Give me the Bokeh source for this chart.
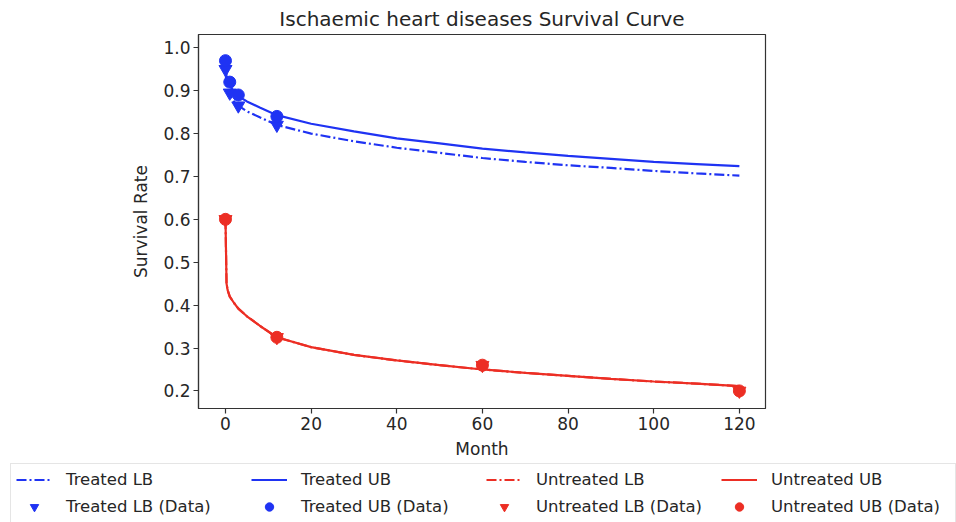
from bokeh.plotting import figure
from bokeh.models import Legend, LegendItem, FixedTicker, NumeralTickFormatter, Range1d
from bokeh.embed import file_html
from bokeh.resources import INLINE

# ---- data ----
curve_months = [0, 0.25, 0.5, 1, 2, 3, 5, 8, 12, 20, 30, 40, 50, 60, 70, 80, 90, 100, 110, 120]
treated_ub_curve = [0.965, 0.935, 0.925, 0.912, 0.897, 0.887, 0.875, 0.861, 0.843, 0.823, 0.805,
                    0.789, 0.777, 0.765, 0.756, 0.748, 0.741, 0.734, 0.729, 0.724]
treated_lb_curve = [0.945, 0.915, 0.903, 0.890, 0.875, 0.865, 0.852, 0.838, 0.820, 0.800, 0.782,
                    0.767, 0.755, 0.743, 0.734, 0.726, 0.720, 0.713, 0.707, 0.702]
untreated_ub_curve = [0.600, 0.450, 0.435, 0.420, 0.405, 0.392, 0.374, 0.352, 0.325, 0.302, 0.284,
                      0.271, 0.260, 0.250, 0.242, 0.235, 0.228, 0.222, 0.217, 0.211]
untreated_lb_curve = [0.600, 0.450, 0.435, 0.420, 0.405, 0.392, 0.374, 0.352, 0.325, 0.302, 0.284,
                      0.271, 0.260, 0.250, 0.242, 0.235, 0.228, 0.222, 0.217, 0.211]

treated_data_months = [0, 1, 3, 12]
treated_lb_data = [0.95, 0.895, 0.865, 0.82]
treated_ub_data = [0.97, 0.92, 0.89, 0.84]

untreated_data_months = [0, 12, 60, 120]
untreated_lb_data = [0.60, 0.325, 0.26, 0.20]
untreated_ub_data = [0.60, 0.325, 0.26, 0.20]

x_ticks = [0, 20, 40, 60, 80, 100, 120]
y_ticks = [0.2, 0.3, 0.4, 0.5, 0.6, 0.7, 0.8, 0.9, 1.0]

legend_labels = ["Treated LB", "Treated LB (Data)", "Treated UB", "Treated UB (Data)",
                 "Untreated LB", "Untreated LB (Data)", "Untreated UB", "Untreated UB (Data)"]

BLUE = "#1f33f3"
RED = "#ec2e24"
FONT = "DejaVu Sans"
TXT = "#262626"
DASHDOT = "10 3 2 3"


def add_series(fig):
    """Draw the four curves and four data series on fig; return renderers in legend order."""
    tlb = fig.line(curve_months, treated_lb_curve, line_color=BLUE, line_width=2.2, line_dash=DASHDOT)
    tub = fig.line(curve_months, treated_ub_curve, line_color=BLUE, line_width=2.2)
    ulb = fig.line(curve_months, untreated_lb_curve, line_color=RED, line_width=2.2, line_dash=DASHDOT)
    uub = fig.line(curve_months, untreated_ub_curve, line_color=RED, line_width=2.2)
    tlbd = fig.scatter(treated_data_months, treated_lb_data, marker="inverted_triangle", size=13,
                       fill_color=BLUE, line_color=BLUE)
    tubd = fig.scatter(treated_data_months, treated_ub_data, marker="circle", size=12,
                       fill_color=BLUE, line_color=BLUE)
    ulbd = fig.scatter(untreated_data_months, untreated_lb_data, marker="inverted_triangle", size=13,
                       fill_color=RED, line_color=RED)
    uubd = fig.scatter(untreated_data_months, untreated_ub_data, marker="circle", size=12,
                       fill_color=RED, line_color=RED)
    return [tlb, tlbd, tub, tubd, ulb, ulbd, uub, uubd]


# ---- main chart ----
p = figure(frame_width=567, frame_height=374, output_backend="svg", toolbar_location=None,
           x_range=Range1d(-6.3, 126.1), y_range=Range1d(0.159, 1.031),
           min_border_left=198, min_border_right=191, min_border_top=30, min_border_bottom=54,
           title="Ischaemic heart diseases Survival Curve")
p.title.align = "center"
p.title.text_font = FONT
p.title.text_font_style = "normal"
p.title.text_font_size = "20px"
p.title.text_color = TXT
p.title.standoff = 8

p.xgrid.visible = False
p.ygrid.visible = False
p.outline_line_color = "#333333"
p.outline_line_width = 1.2

for ax in (p.xaxis[0], p.yaxis[0]):
    ax.major_tick_in = 0
    ax.major_tick_out = 5
    ax.minor_tick_out = 0
    ax.minor_tick_in = 0
    ax.axis_line_color = "#333333"
    ax.axis_line_width = 1.2
    ax.major_tick_line_color = "#333333"
    ax.major_tick_line_width = 1.2
    ax.major_label_text_font = FONT
    ax.major_label_text_font_size = "17px"
    ax.major_label_text_color = TXT
    ax.major_label_standoff = 3
    ax.axis_label_text_font = FONT
    ax.axis_label_text_font_style = "normal"
    ax.axis_label_text_font_size = "17px"
    ax.axis_label_text_color = TXT

p.xaxis.ticker = FixedTicker(ticks=x_ticks)
p.yaxis.ticker = FixedTicker(ticks=y_ticks)
p.yaxis.formatter = NumeralTickFormatter(format="0.0")
p.xaxis.axis_label = "Month"
p.yaxis.axis_label = "Survival Rate"
p.xaxis.axis_label_standoff = 6
p.yaxis.axis_label_standoff = 9

add_series(p)

# ---- legend strip below the chart (its own series lie outside its ranges) ----
lg = figure(width=956, height=62, output_backend="svg", toolbar_location=None,
            x_range=Range1d(-1000, -999), y_range=Range1d(-1000, -999),
            x_axis_location=None, y_axis_location=None, min_border=0)
lg.xgrid.visible = False
lg.ygrid.visible = False
lg.outline_line_color = None
legend_renderers = add_series(lg)

items = [LegendItem(label=lab, renderers=[r]) for lab, r in zip(legend_labels, legend_renderers)]
legend = Legend(items=items, orientation="vertical", nrows=2, location=(10, 1),
                label_text_font=FONT, label_text_font_size="16.5px", label_text_color=TXT,
                glyph_width=36, glyph_height=21, label_standoff=14, spacing=6,
                label_width=179, label_height=21,
                padding=5, margin=0, border_line_color="#cccccc", border_line_width=1,
                background_fill_alpha=1.0)
lg.add_layout(legend, "center")

# two separate roots, so the strip is not aligned to the chart's frame
open("out.html", "w").write(file_html([p, lg], INLINE))
